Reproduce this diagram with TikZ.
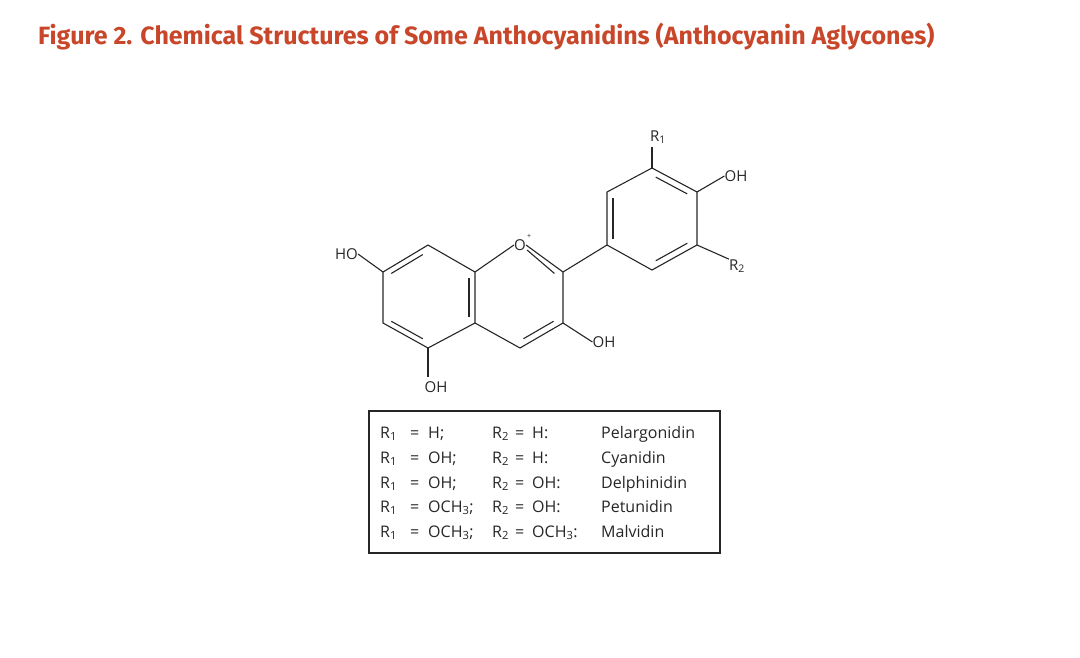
\documentclass[tikz,border=0pt]{standalone}
\usepackage{fontspec}
\usetikzlibrary{calc}
\setmainfont{Open Sans}
\newfontfamily\titlefont{Fira Sans}
\definecolor{titlec}{HTML}{C8472A}
\begin{document}
\begin{tikzpicture}[x=1pt,y=-1pt,
  bond/.style={line width=1.1pt,color=black!85},
  lbl/.style={inner sep=0pt,font=\fontsize{15}{15}\selectfont,text=black!85},
  tt/.style={inner sep=0pt,anchor=base west,font=\fontsize{16}{16}\selectfont,text=black!85}]
\useasboundingbox (0,0) rectangle (1080,657);
\node[anchor=west,inner sep=0pt,text=titlec,font=\titlefont\bfseries\fontsize{25}{25}\selectfont] (title) at (38,37) {Figure 2. Chemical Structures of Some Anthocyanidins (Anthocyanin Aglycones)};
% atoms
\coordinate (a1) at (428,245); \coordinate (a2) at (383,272); \coordinate (a3) at (383,323);
\coordinate (a4) at (428,348); \coordinate (a5) at (475,323); \coordinate (a6) at (475,272);
\coordinate (c2) at (563,272); \coordinate (c3) at (563,323); \coordinate (c4) at (520,348);
\node[lbl] (O) at (520,245) {O};
\node[lbl,font=\fontsize{7}{7}\selectfont] (plus) at (529,236) {+};
\coordinate (b1) at (607,245); \coordinate (b2) at (607,192); \coordinate (b3) at (652,168);
\coordinate (b4) at (697,192); \coordinate (b5) at (697,245); \coordinate (b6) at (652,270);
% ring A
\draw[bond] (a1)--(a2)--(a3)--(a4)--(a5)--(a6)--cycle;
\draw[bond] ($(a1)!0.15!(a2)+(1.5,5.5)$) -- ($(a1)!0.85!(a2)+(1.5,5.5)$);
\draw[bond] ($(a3)!0.15!(a4)+(1.5,-5.5)$) -- ($(a3)!0.85!(a4)+(1.5,-5.5)$);
\draw[bond] ($(a6)!0.12!(a5)+(-6,0)$) -- ($(a6)!0.88!(a5)+(-6,0)$);
% ring C
\draw[bond] (a6)--(O.west); \draw[bond] (O.east)--(c2)--(c3)--(c4)--(a5);
\draw[bond] ($(O.east)+(1,5)$) -- ($(c2)!0.15!(O.east)+(-3,5.5)$);
\draw[bond] ($(c3)!0.15!(c4)+(-3,-5.5)$) -- ($(c3)!0.85!(c4)+(-3,-5.5)$);
% ring B
\draw[bond] (c2)--(b1);
\draw[bond] (b1)--(b2)--(b3)--(b4)--(b5)--(b6)--cycle;
\draw[bond] ($(b1)!0.12!(b2)+(6,0)$) -- ($(b1)!0.88!(b2)+(6,0)$);
\draw[bond] ($(b3)!0.15!(b4)+(-3,5.5)$) -- ($(b3)!0.85!(b4)+(-3,5.5)$);
\draw[bond] ($(b5)!0.15!(b6)+(-3,-5.5)$) -- ($(b5)!0.85!(b6)+(-3,-5.5)$);
% substituents
\node[lbl,anchor=east] (ho7) at (358,254) {HO};
\draw[bond] (a2)--(ho7.east);
\node[lbl] (oh5) at (436,387) {OH};
\draw[bond] (a4)--(428,377);
\node[lbl] (oh3) at (604,342) {OH};
\draw[bond] (c3)--(oh3.west);
\node[lbl] (r1) at (658,137) {R\textsubscript{1}};
\draw[bond] (b3)--(652,147);
\node[lbl] (oh4) at (736,176) {OH};
\draw[bond] (b4)--(oh4.west);
\node[lbl] (r2) at (737,266) {R\textsubscript{2}};
\draw[bond] (b5)--(r2.north west);
% table
\draw[line width=1.1pt,color=black!85] (369,411) rectangle (720,553);
\foreach \y/\va/\vb/\nm [count=\i] in {438/{H;}/{H:}/Pelargonidin, 463/{OH;}/{H:}/Cyanidin, 488/{OH;}/{OH:}/Delphinidin, 512/{OCH\textsubscript{3};}/{OH:}/Petunidin, 537/{OCH\textsubscript{3};}/{OCH\textsubscript{3}:}/Malvidin}{
  \node[tt] (ra\i) at (380,\y) {R\textsubscript{1}};
  \node[tt] (ea\i) at (410,\y) {=};
  \node[tt] (va\i) at (428,\y) {\va};
  \node[tt] (rb\i) at (492,\y) {R\textsubscript{2}};
  \node[tt] (eb\i) at (515,\y) {=};
  \node[tt] (vb\i) at (532,\y) {\vb};
  \node[tt] (nm\i) at (601,\y) {\nm};
}
\end{tikzpicture}
\end{document}
